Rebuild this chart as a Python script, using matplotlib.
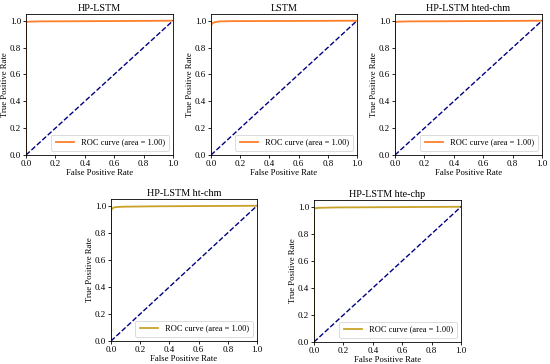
import matplotlib
matplotlib.use('Agg')
import matplotlib.pyplot as plt

plt.rcParams['font.family'] = ['Liberation Serif', 'DejaVu Serif']

titles = ['HP-LSTM', 'LSTM', 'HP-LSTM hted-chm', 'HP-LSTM ht-chm', 'HP-LSTM hte-chp']

# ROC points
fpr_hp = [0.0, 0.0, 0.003, 0.02, 0.1, 0.5, 1.0]
tpr_hp = [0.0, 0.985, 0.99, 0.993, 0.995, 0.997, 1.0]
fpr_lstm = [0.0, 0.0, 0.005, 0.015, 0.03, 0.06, 0.15, 0.5, 1.0]
tpr_lstm = [0.0, 0.96, 0.975, 0.985, 0.99, 0.995, 0.997, 0.998, 1.0]
fpr_hted = [0.0, 0.0, 0.003, 0.02, 0.1, 0.5, 1.0]
tpr_hted = [0.0, 0.985, 0.99, 0.993, 0.995, 0.997, 1.0]
fpr_htchm = [0.0, 0.0, 0.005, 0.015, 0.03, 0.08, 0.3, 1.0]
tpr_htchm = [0.0, 0.96, 0.975, 0.985, 0.99, 0.993, 0.996, 1.0]
fpr_htechp = [0.0, 0.0, 0.005, 0.03, 0.15, 0.5, 1.0]
tpr_htechp = [0.0, 0.985, 0.988, 0.992, 0.995, 0.997, 1.0]
areas = [1.00, 1.00, 1.00, 1.00, 1.00]

curves = [(fpr_hp, tpr_hp), (fpr_lstm, tpr_lstm), (fpr_hted, tpr_hted),
          (fpr_htchm, tpr_htchm), (fpr_htechp, tpr_htechp)]
colors = ['#ff7f2a', '#ff7f2a', '#ff7f2a', '#c9a227', '#c9a227']

W, H = 550.0, 364.0
# axes boxes in pixels: left, top, right, bottom
boxes = [(26, 14, 173, 155), (211, 14, 357, 155), (395, 14, 542, 155),
         (111, 199, 257, 341), (314, 200, 461, 342)]

fig = plt.figure(figsize=(5.5, 3.64), dpi=100)
for i, (l, t, r, b) in enumerate(boxes):
    ax = fig.add_axes([l / W, (H - b) / H, (r - l) / W, (b - t) / H])
    fpr, tpr = curves[i]
    ax.plot(fpr, tpr, color=colors[i], lw=1.3, label='ROC curve (area = %0.2f)' % areas[i])
    ax.plot([0, 1], [0, 1], color='navy', lw=1, linestyle='--')
    ax.set_xlim([0.0, 1.0])
    ax.set_ylim([0.0, 1.05])
    ax.set_xticks([0, 0.2, 0.4, 0.6, 0.8, 1.0])
    ax.set_yticks([0, 0.2, 0.4, 0.6, 0.8, 1.0])
    ax.tick_params(labelsize=6.5, length=2.5, width=0.6, pad=1)
    ax.set_xlabel('False Positive Rate', fontsize=6.2, labelpad=1)
    ax.set_ylabel('True Positive Rate', fontsize=6.2, labelpad=0.5)
    ax.set_title(titles[i], fontsize=7.3, pad=2)
    for s in ax.spines.values():
        s.set_linewidth(0.6)
    leg = ax.legend(loc='lower right', fontsize=6, handlelength=2.2, borderpad=0.5)
    leg.get_frame().set_linewidth(0.6)

plt.savefig('out.png', dpi=100)
